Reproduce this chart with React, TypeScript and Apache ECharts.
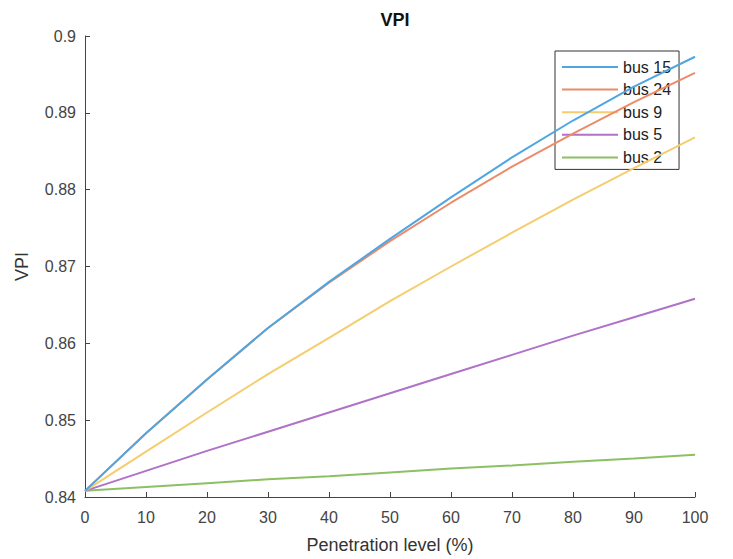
import React, { useEffect, useRef } from "react";
import * as echarts from "echarts";

const penetration = [0, 10, 20, 30, 40, 50, 60, 70, 80, 90, 100];
const bus15 = [0.8408, 0.8483, 0.8553, 0.862, 0.868, 0.8736, 0.879, 0.8842, 0.889, 0.8934, 0.8973];
const bus24 = [0.8408, 0.8483, 0.8553, 0.862, 0.8679, 0.8733, 0.8783, 0.883, 0.8873, 0.8914, 0.8952];
const bus9 = [0.8408, 0.8459, 0.851, 0.856, 0.8607, 0.8655, 0.87, 0.8744, 0.8787, 0.8828, 0.8868];
const bus5 = [0.8408, 0.8434, 0.846, 0.8485, 0.851, 0.8535, 0.856, 0.8585, 0.861, 0.8634, 0.8658];
const bus2 = [0.8408, 0.8413, 0.8418, 0.8423, 0.8427, 0.8432, 0.8437, 0.8441, 0.8446, 0.845, 0.8455];

const seriesNames = ["bus 15", "bus 24", "bus 9", "bus 5", "bus 2"];
const seriesData = [bus15, bus24, bus9, bus5, bus2];
const colors = ["#4FA6E0", "#EC8B69", "#F6CD6E", "#B072C8", "#8DC063"];

const FONT = "'Liberation Sans', Arial, Helvetica, sans-serif";

export default function App() {
  const ref = useRef<HTMLDivElement>(null);
  useEffect(() => {
    if (!ref.current) return;
    const chart = echarts.init(ref.current, null, { renderer: "svg" });
    chart.setOption({
      animation: false,
      backgroundColor: "#fff",
      textStyle: { fontFamily: FONT },
      title: {
        text: "VPI",
        left: 390,
        top: 6,
        textAlign: "center",
        textStyle: { fontSize: 18, fontWeight: "bold", color: "#111", fontFamily: FONT },
      },
      legend: {
        orient: "vertical",
        left: 555,
        top: 51,
        backgroundColor: "#fff",
        borderColor: "#333",
        borderWidth: 1,
        padding: [7, 8, 3, 7],
        icon: "rect",
        itemWidth: 56,
        itemHeight: 2,
        itemGap: 4.6,
        textStyle: { fontSize: 16, color: "#222", fontFamily: FONT, lineHeight: 18 },
        data: seriesNames,
      },
      grid: { left: 85, right: 38, top: 36, bottom: 57, containLabel: false },
      xAxis: {
        type: "value",
        min: 0,
        max: 100,
        interval: 10,
        name: "Penetration level (%)",
        nameLocation: "middle",
        nameGap: 39,
        nameTextStyle: { fontSize: 18, color: "#333", fontFamily: FONT },
        axisLine: { show: true, lineStyle: { color: "#444", width: 1 } },
        axisTick: { show: true, inside: true, length: 5, lineStyle: { color: "#444" } },
        axisLabel: { fontSize: 16, color: "#444", margin: 12, fontFamily: FONT },
        splitLine: { show: false },
      },
      yAxis: {
        type: "value",
        min: 0.84,
        max: 0.9,
        interval: 0.01,
        name: "VPI",
        nameLocation: "middle",
        nameGap: 54,
        nameTextStyle: { fontSize: 18, color: "#333", fontFamily: FONT },
        axisLine: { show: true, lineStyle: { color: "#444", width: 1 } },
        axisTick: { show: true, inside: true, length: 5, lineStyle: { color: "#444" } },
        axisLabel: {
          fontSize: 16,
          color: "#444",
          margin: 9,
          fontFamily: FONT,
          formatter: (v: number) => String(parseFloat(v.toFixed(2))),
        },
        splitLine: { show: false },
      },
      series: seriesNames.map((name, i) => ({
        name,
        type: "line",
        symbol: "none",
        smooth: false,
        data: penetration.map((x, j) => [x, seriesData[i][j]]),
        lineStyle: { color: colors[i], width: 2 },
        itemStyle: { color: colors[i] },
        z: 10 - i,
      })),
    });
    return () => chart.dispose();
  }, []);
  return <div ref={ref} style={{ width: 733, height: 559, position: "absolute", left: 0, top: 0 }} />;
}
